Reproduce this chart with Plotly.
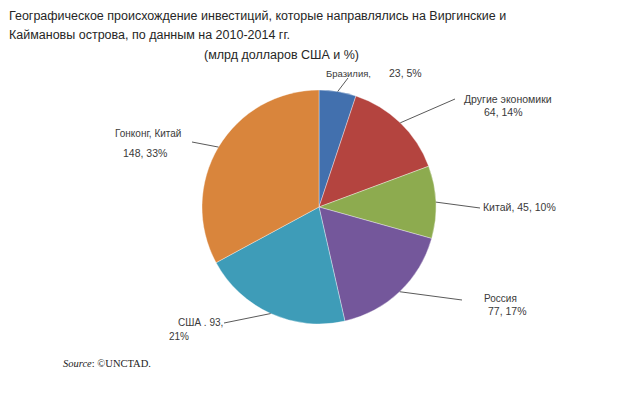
import math
import plotly.graph_objects as go

# page body has an 8px margin: figure is drawn offset by 8px
OFF = 8
W, H = 632, 387

# ---- data ----
categories = ["Бразилия", "Другие экономики", "Китай", "Россия", "США", "Гонконг, Китай"]
values = [23, 64, 45, 77, 93, 148]
percents = ["5%", "14%", "10%", "17%", "21%", "33%"]
colors = ["#4270AE", "#B4443F", "#8DAB4F", "#74579B", "#3E9CB8", "#D9853C"]

title_lines = [
    "Географическое происхождение инвестиций, которые направлялись на Виргинские и",
    "Каймановы острова, по данным на 2010-2014 гг.",
]
subtitle = "(млрд долларов США и %)"
source_text = "<i>Source</i>: ©UNCTAD."

# ---- layout helpers (screen pixel -> paper) ----
def px(x):
    return (x - OFF) / W

def py(y):
    return 1 - (y - OFF) / H

CX, CY, R = 319, 207, 117

fig = go.Figure(go.Pie(
    labels=categories,
    values=values,
    sort=False,
    direction="clockwise",
    rotation=0,
    marker=dict(colors=colors, line=dict(color="rgba(255,255,255,0.6)", width=0.6)),
    textinfo="none",
    hoverinfo="label+value+percent",
    showlegend=False,
    domain=dict(x=[px(CX - R), px(CX + R)], y=[py(CY + R), py(CY - R)]),
))

FONT = "Liberation Sans"
TXT = "#3a3a3a"
annotations = []

def add_text(text, x, y, size=10, anchor="left", font=FONT, color=TXT):
    annotations.append(dict(
        text=text, x=px(x), y=py(y), xref="paper", yref="paper",
        xanchor=anchor, yanchor="middle", showarrow=False,
        font=dict(family=font, size=size, color=color),
    ))

add_text(title_lines[0], 7, 16, size=12.5, color="#262626")
add_text(title_lines[1], 7, 35, size=12.5, color="#262626")
add_text(subtitle, 281, 55, size=12.5, anchor="center", color="#262626")

# data labels
v = values
add_text(f"{categories[0]},", 324, 73, size=9.5)
add_text(f"{v[0]}, {percents[0]}", 387, 73, size=10.5)
add_text(categories[1], 462, 99, size=10.5)
add_text(f"{v[1]}, {percents[1]}", 503, 112, size=10.5, anchor="center")
add_text(f"{categories[2]}, {v[2]}, {percents[2]}", 481, 207, size=10.5)
add_text(categories[3], 482, 298, size=10)
add_text(f"{v[3]}, {percents[3]}", 507, 311, size=10.5, anchor="center")
add_text(f"{categories[4]} . {v[4]},", 176, 322, size=10)
add_text(percents[4], 167, 336, size=10)
add_text(categories[5], 148, 133, size=10, anchor="center")
add_text(f"{v[5]}, {percents[5]}", 145, 153, size=10.5, anchor="center")

add_text(source_text, 61, 363, size=10.5, font="Liberation Serif", color="#222")

# leader lines: start at slice mid-angle on the rim, end near label
ends = [(348, 78), (455, 99), (480, 208), (462, 300), (224, 323), (192, 142)]
total = sum(values)
cum = 0
shapes = []
for val, (ex, ey) in zip(values, ends):
    mid = (cum + val / 2) / total * 2 * math.pi
    cum += val
    sx = CX + R * math.sin(mid)
    sy = CY - R * math.cos(mid)
    shapes.append(dict(type="line", xref="paper", yref="paper",
                       x0=px(sx), y0=py(sy), x1=px(ex), y1=py(ey),
                       line=dict(color="#5a5a5a", width=1)))

fig.update_layout(
    width=W, height=H,
    margin=dict(l=0, r=0, t=0, b=0),
    paper_bgcolor="white", plot_bgcolor="white",
    annotations=annotations, shapes=shapes,
)

fig.write_html("out.html")
